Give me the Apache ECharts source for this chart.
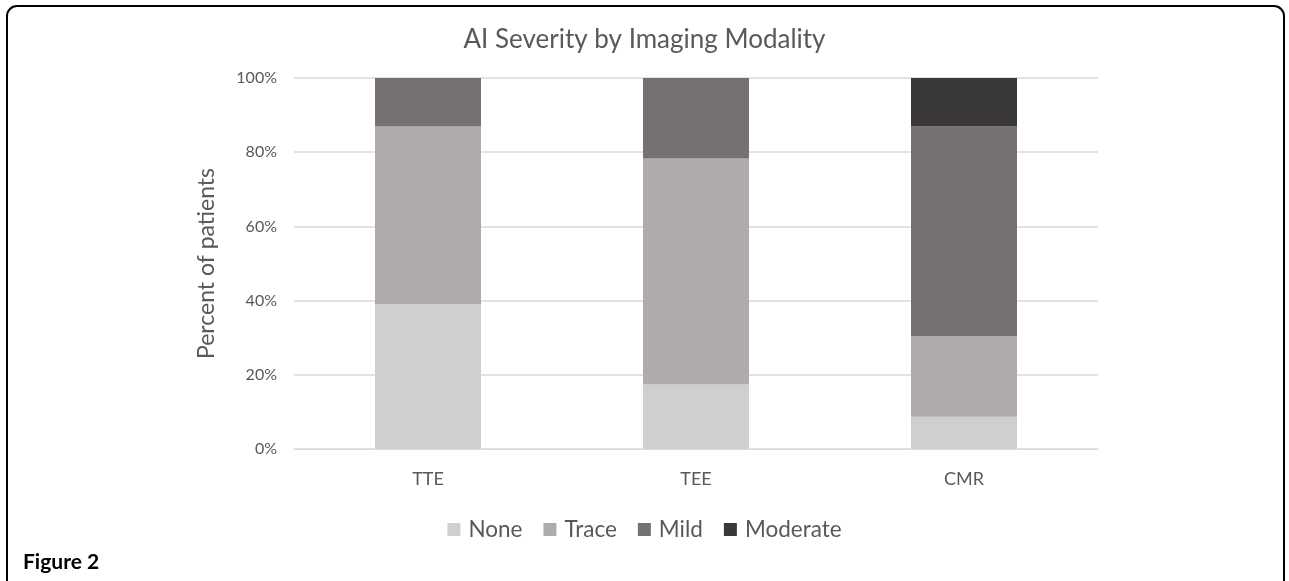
<!DOCTYPE html>
<html>
<head>
<meta charset="utf-8">
<script src="https://cdn.jsdelivr.net/npm/echarts@6/dist/echarts.min.js"></script>
<style>
  html, body { margin: 0; padding: 0; background: #fff; }
  #chart { width: 1289px; height: 581px; }
</style>
</head>
<body>
<div id="chart"></div>
<script>
// 数据
const modalities = ['TTE', 'TEE', 'CMR'];
const severityNames = ['None', 'Trace', 'Mild', 'Moderate'];
const noneVals = [39.1, 17.4, 8.7];
const traceVals = [47.8, 60.9, 21.7];
const mildVals = [13.1, 21.7, 56.5];
const moderateVals = [0, 0, 13.1];
const yTicks = [0, 20, 40, 60, 80, 100];

const colors = ['#d0cfcf', '#afabab', '#767171', '#3b3838'];
const font = 'Lato, "Open Sans", sans-serif';

const myChart = echarts.init(document.getElementById('chart'));

const seriesData = [noneVals, traceVals, mildVals, moderateVals];

option = {
  animation: false,
  color: colors,
  title: {
    text: 'AI Severity by Imaging Modality',
    left: 'center',
    top: 22,
    textStyle: { fontFamily: font, fontSize: 26, fontWeight: 'normal', color: '#595959' }
  },
  legend: {
    data: severityNames,
    top: 513,
    left: 'center',
    itemWidth: 13,
    itemHeight: 13,
    itemGap: 21,
    icon: 'rect',
    textStyle: { fontFamily: font, fontSize: 22.5, color: '#595959', padding: [0, 0, 0, 3] }
  },
  grid: { left: 294, right: 191, top: 78, bottom: 132 },
  xAxis: {
    type: 'category',
    data: modalities,
    axisLine: { show: true, lineStyle: { color: '#d9d9d9', width: 1 } },
    axisTick: { show: false },
    axisLabel: { fontFamily: font, fontSize: 18, color: '#595959', margin: 21 }
  },
  yAxis: {
    type: 'value',
    min: yTicks[0],
    max: yTicks[yTicks.length - 1],
    interval: 20,
    name: 'Percent of patients',
    nameLocation: 'middle',
    nameGap: 76,
    nameTextStyle: { fontFamily: font, fontSize: 23, color: '#595959' },
    axisLine: { show: false },
    axisTick: { show: false },
    splitLine: { lineStyle: { color: '#d9d9d9', width: 1.5 } },
    axisLabel: { fontFamily: font, fontSize: 16, color: '#595959', margin: 17, formatter: '{value}%' }
  },
  series: severityNames.map((name, i) => ({
    name: name,
    type: 'bar',
    stack: 'total',
    barWidth: 106,
    data: seriesData[i],
    itemStyle: { color: colors[i] }
  })),
  graphic: [
    {
      type: 'rect',
      shape: { x: 7, y: 6, width: 1277, height: 620, r: 10 },
      style: { fill: 'none', stroke: '#000', lineWidth: 2 },
      silent: true
    },
    {
      type: 'text',
      left: 23,
      top: 552,
      style: { text: 'Figure 2', fontFamily: font, fontSize: 21, fontWeight: 'bold', fill: '#000' }
    }
  ]
};

myChart.setOption(option);
</script>
</body>
</html>
